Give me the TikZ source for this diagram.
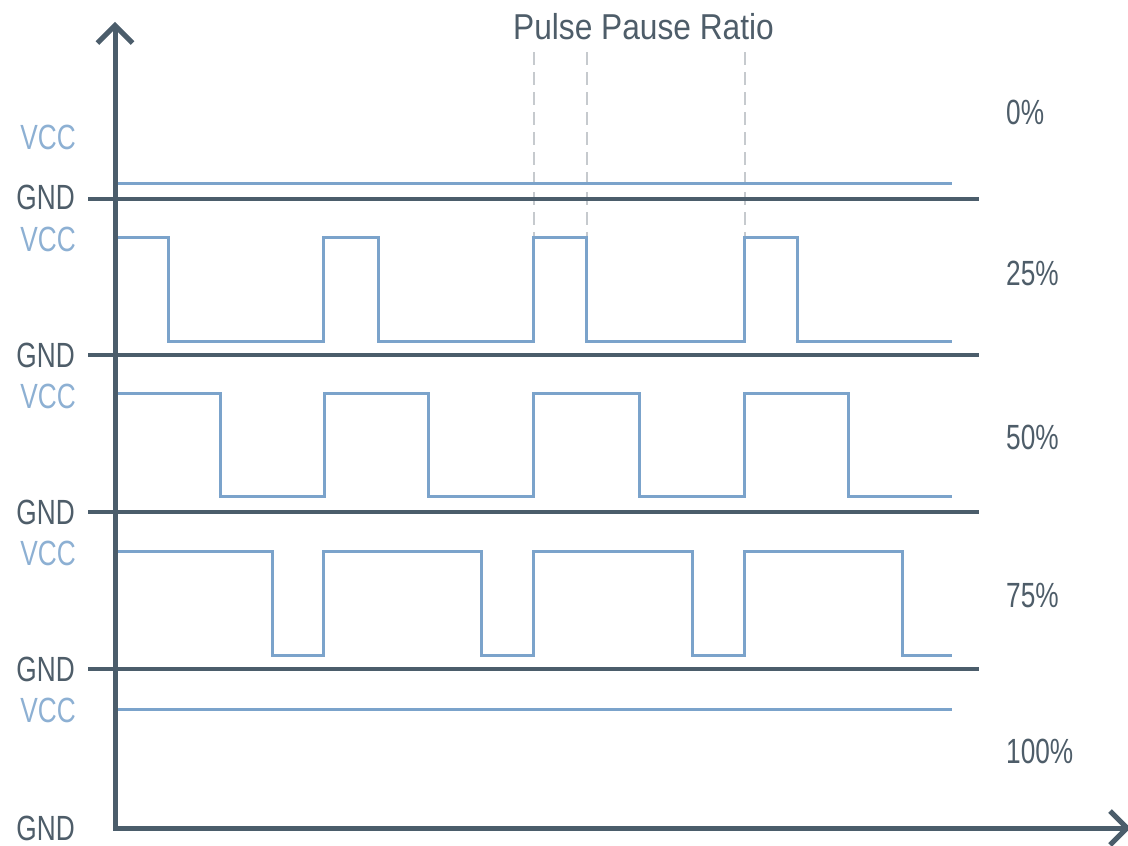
\documentclass[tikz,border=0pt]{standalone}
\usepackage{fontspec}
\setmainfont{Liberation Sans}[FakeStretch=0.75]
\newfontfamily\titlefont{Liberation Sans}[FakeStretch=0.88]
\definecolor{axisc}{HTML}{4B5D6B}
\definecolor{sigc}{HTML}{7BA3CB}
\definecolor{vccc}{HTML}{8DB0D3}
\definecolor{txtc}{HTML}{4E5D69}
\definecolor{dashc}{HTML}{C6CACE}
\tikzset{
  axisline/.style={draw=axisc, line width=5pt},
  gndline/.style={draw=axisc, line width=3.2pt},
  sig/.style={draw=sigc, line width=3pt, line join=miter},
  guide/.style={draw=dashc, line width=2pt, dash pattern=on 13pt off 7pt},
  vcclab/.style={anchor=east, inner sep=0pt, text=vccc, font=\fontsize{35}{40}\selectfont},
  gndlab/.style={anchor=east, inner sep=0pt, text=txtc, font=\fontsize{35}{40}\selectfont},
  pctlab/.style={anchor=west, inner sep=0pt, text=txtc, font=\fontsize{35}{40}\selectfont},
}
\begin{document}
\begin{tikzpicture}[x=1pt, y=-1pt]
\useasboundingbox (0,0) rectangle (1128,846);
\clip (0,0) rectangle (1128,846);
% guide dashed lines
\draw[guide] (533.5,52) -- (533.5,237);
\draw[guide] (586.5,52) -- (586.5,237);
\draw[guide] (744.5,52) -- (744.5,237);
% GND lines
\foreach \y in {199,355,512,669} \draw[gndline] (88,\y) -- (979,\y);
% signals
\draw[sig] (117,183) -- (952,183);
\draw[sig] (117,237) -- (168,237) -- (168,341) -- (323,341) -- (323,237) -- (378,237) -- (378,341)
  -- (533.5,341) -- (533.5,237) -- (586.5,237) -- (586.5,341) -- (744.5,341) -- (744.5,237)
  -- (797,237) -- (797,341) -- (952,341);
\draw[sig] (117,393.5) -- (220.5,393.5) -- (220.5,496.5) -- (324,496.5) -- (324,393.5) -- (428,393.5) -- (428,496.5)
  -- (533.5,496.5) -- (533.5,393.5) -- (639.5,393.5) -- (639.5,496.5) -- (744.5,496.5) -- (744.5,393.5)
  -- (848.5,393.5) -- (848.5,496.5) -- (952,496.5);
\draw[sig] (117,551.5) -- (272,551.5) -- (272,655) -- (323,655) -- (323,551.5) -- (481,551.5) -- (481,655)
  -- (533.5,655) -- (533.5,551.5) -- (692,551.5) -- (692,655) -- (744.5,655) -- (744.5,551.5)
  -- (902,551.5) -- (902,655) -- (952,655);
\draw[sig] (117,709) -- (952,709);
% axes
\draw[axisline] (115,828) -- (115,28);
\draw[axisline] (113,828) -- (1125,828);
\draw[axisline, line join=miter] (97.5,43) -- (115,25.5) -- (132.5,43);
\draw[axisline, line join=miter] (1110,811) -- (1127,828) -- (1110,845);
% labels
\node[font=\titlefont\fontsize{36}{40}\selectfont, text=txtc, inner sep=0pt] (title) at (643.5,26.5) {Pulse Pause Ratio};
\node[vcclab] (v0) at (76,137.5) {VCC};
\node[vcclab] (v1) at (76,239.5) {VCC};
\node[vcclab] (v2) at (76,396) {VCC};
\node[vcclab] (v3) at (76,553) {VCC};
\node[vcclab] (v4) at (76,710) {VCC};
\node[gndlab] (g0) at (75,197.5) {GND};
\node[gndlab] (g1) at (75,355) {GND};
\node[gndlab] (g2) at (75,512) {GND};
\node[gndlab] (g3) at (75,669) {GND};
\node[gndlab] (g4) at (75,828.5) {GND};
\node[pctlab] (p0) at (1006,112) {0\%};
\node[pctlab] (p1) at (1006,273.5) {25\%};
\node[pctlab] (p2) at (1006,437) {50\%};
\node[pctlab] (p3) at (1006,596) {75\%};
\node[pctlab] (p4) at (1006,751) {100\%};
\end{tikzpicture}
\end{document}
